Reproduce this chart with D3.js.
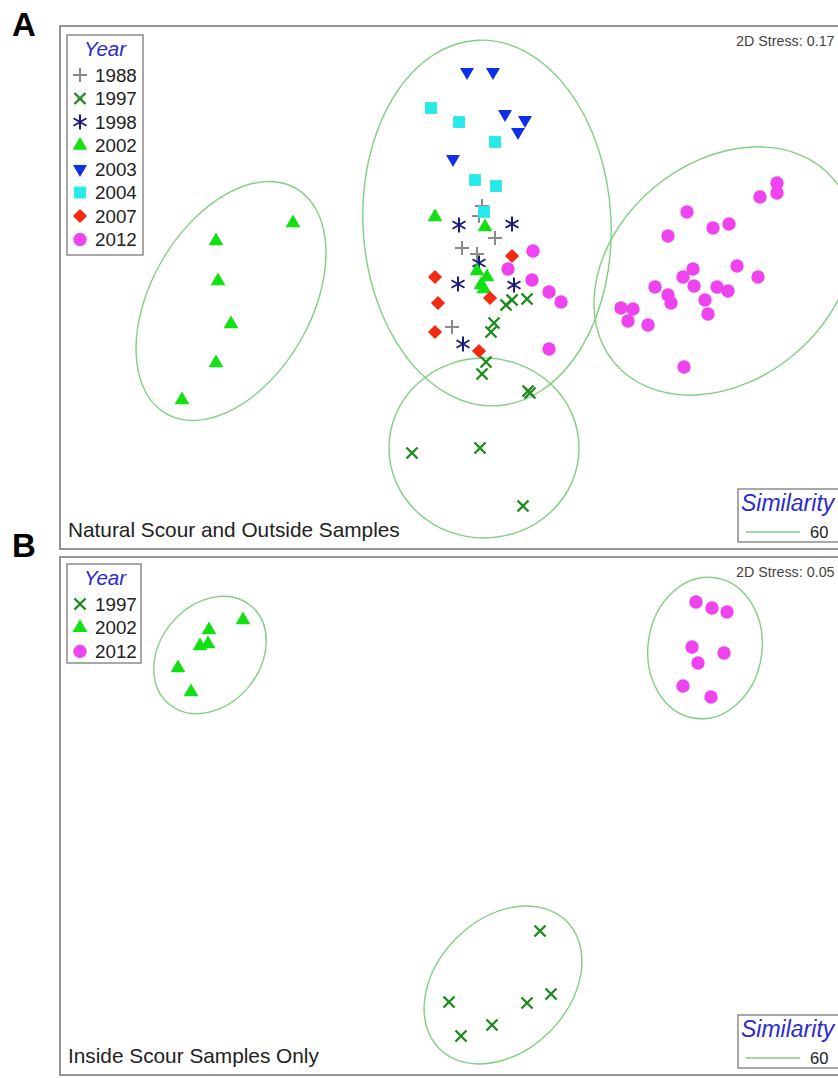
<!DOCTYPE html>
<html>
<head>
<meta charset="utf-8">
<script src="https://cdn.jsdelivr.net/npm/d3@7"></script>
<style>
body{margin:0;background:#fff;}
svg{display:block;font-family:Arial,"Liberation Sans",sans-serif;}
</style>
</head>
<body>
<script>
// ---- data (MDS coordinates) ----
// panel A : natural scour and outside samples
var a1988 = [[0.32,0.84],[0.29,0.74],[0.45,0.52],[0.12,0.42],[0.27,0.36],[0.02,-0.37]];
var a1997 = [[0.62,-0.10],[0.56,-0.15],[0.77,-0.09],[0.44,-0.33],[0.41,-0.42],[0.36,-0.72],
             [0.32,-0.84],[0.78,-1.01],[0.80,-1.03],[-0.38,-1.63],[0.30,-1.58],[0.73,-2.16]];
var a1998 = [[0.09,0.65],[0.62,0.66],[0.29,0.27],[0.08,0.06],[0.64,0.05],[0.13,-0.54]];
var a2002 = [[-1.57,0.67],[-2.34,0.49],[-2.32,0.09],[-2.19,-0.34],[-2.34,-0.73],[-2.68,-1.10],
             [-0.15,0.73],[0.35,0.63],[0.27,0.19],[0.37,0.13],[0.31,0.05],[0.34,0.01]];
var a2003 = [[0.17,2.18],[0.43,2.18],[0.55,1.76],[0.75,1.70],[0.68,1.58],[0.03,1.31]];
var a2004 = [[-0.19,1.82],[0.09,1.68],[0.45,1.48],[0.25,1.10],[0.46,1.04],[0.34,0.78]];
var a2007 = [[0.62,0.34],[-0.15,0.13],[-0.12,-0.13],[0.40,-0.08],[-0.15,-0.42],[0.29,-0.61]];
var a2012 = [[0.83,0.39],[0.58,0.21],[0.82,0.10],[0.99,-0.02],[1.11,-0.12],[0.99,-0.59],
             [3.27,1.07],[3.27,0.97],[3.10,0.93],[2.37,0.78],[2.63,0.62],[2.79,0.66],
             [2.18,0.54],[2.87,0.24],[3.08,0.13],[2.43,0.21],[2.33,0.13],[2.44,0.04],
             [2.67,0.03],[2.78,-0.01],[2.05,0.03],[2.18,-0.05],[2.21,-0.13],[2.55,-0.10],
             [2.58,-0.24],[1.71,-0.18],[1.83,-0.19],[1.78,-0.31],[1.98,-0.35],[2.34,-0.77]];
// similarity 60 contours: [cx, cy, rx, ry, tilt(deg)]
var aContours = [[-2.19,-0.11,1.30,0.80,60],[0.37,0.67,1.24,1.83,3],
                 [2.74,0.19,1.43,1.09,40],[0.34,-1.58,0.95,0.90,0]];
var aStress = 0.17;

// panel B : inside scour samples only
var b1997 = [[0.90,-1.16],[1.01,-1.79],[0.77,-1.88],[-0.01,-1.87],[0.42,-2.10],[0.11,-2.21]];
var b2002 = [[-2.07,1.95],[-2.41,1.85],[-2.50,1.69],[-2.42,1.71],[-2.72,1.47],[-2.59,1.23]];
var b2012 = [[2.46,2.13],[2.62,2.07],[2.77,2.03],[2.42,1.68],[2.74,1.62],[2.48,1.52],
             [2.33,1.29],[2.61,1.18]];
var bContours = [[-2.40,1.60,0.64,0.50,50],[2.55,1.67,0.57,0.71,-8],[0.53,-1.70,0.90,0.66,45]];
var bStress = 0.05;

var similarity = 60;

// ---- marker styles ----
var style = {
  "1988": {color:"#8a8a8a", shape:"plus"},
  "1997": {color:"#1f8a1f", shape:"times"},
  "1998": {color:"#1b1b7d", shape:"asterisk"},
  "2002": {color:"#11e011", shape:"up"},
  "2003": {color:"#1030e6", shape:"down"},
  "2004": {color:"#26e9e9", shape:"square"},
  "2007": {color:"#f22a12", shape:"diamond"},
  "2012": {color:"#f043f0", shape:"circle"}
};

function markerPath(shape){
  if(shape=="plus") return "M-7,0H7M0,-7V7";
  if(shape=="times") return "M-5.5,-5.5L5.5,5.5M-5.5,5.5L5.5,-5.5";
  if(shape=="asterisk") return "M0,-7.5V7.5M-6.5,-3.75L6.5,3.75M-6.5,3.75L6.5,-3.75";
  if(shape=="up") return d3.symbol(d3.symbolTriangle, 95)();
  if(shape=="down") return d3.symbol(d3.symbolTriangle, 85)();
  if(shape=="square") return d3.symbol(d3.symbolSquare, 140)();
  if(shape=="diamond") return d3.symbol(d3.symbolSquare, 100)();
  return d3.symbol(d3.symbolCircle, 140)();
}
function markerRotate(shape){
  if(shape=="down") return 180;
  if(shape=="diamond") return 45;
  return 0;
}
function isStroked(shape){
  return shape=="plus" || shape=="times" || shape=="asterisk";
}

var W = 838, H = 1078;
var svg = d3.select("body").append("svg").attr("width", W).attr("height", H);

function drawPanel(p){
  var g = svg.append("g");
  var x = d3.scaleLinear().domain([-3.9, 3.88]).range([60, 838]);
  var y = d3.scaleLinear().domain(p.yDomain).range([p.top, p.bottom]);

  g.append("rect").attr("x", 60).attr("y", p.top).attr("width", 800)
   .attr("height", p.bottom - p.top).attr("fill", "none")
   .attr("stroke", "#7a7a7a").attr("stroke-width", 1.6);

  // cluster contours
  g.selectAll("ellipse.c").data(p.contours).enter().append("ellipse")
   .attr("class", "c")
   .attr("cx", 0).attr("cy", 0)
   .attr("rx", function(d){ return x(d[2]) - x(0); })
   .attr("ry", function(d){ return y(0) - y(d[3]); })
   .attr("transform", function(d){ return "translate(" + x(d[0]) + "," + y(d[1]) + ") rotate(" + (-d[4]) + ")"; })
   .attr("fill", "none").attr("stroke", "#7fd07f").attr("stroke-width", 1.4);

  // samples
  p.series.forEach(function(s){
    var st = style[s.year];
    var stroked = isStroked(st.shape);
    g.selectAll("path.y" + s.year).data(s.pts).enter().append("path")
     .attr("class", "y" + s.year)
     .attr("d", markerPath(st.shape))
     .attr("transform", function(d){ return "translate(" + x(d[0]) + "," + y(d[1]) + ") rotate(" + markerRotate(st.shape) + ")"; })
     .attr("fill", stroked ? "none" : st.color)
     .attr("stroke", stroked ? st.color : "none")
     .attr("stroke-width", st.shape=="times" ? 2.4 : 2);
  });

  // year legend
  var lg = g.append("g");
  lg.append("rect").attr("x", 67).attr("y", p.legTop).attr("width", p.legW)
    .attr("height", p.legH).attr("fill", "#fff").attr("stroke", "#7a7a7a").attr("stroke-width", 1.3);
  lg.append("text").attr("x", 105).attr("y", p.legTop + 21).attr("text-anchor", "middle")
    .attr("font-size", 20.5).attr("font-style", "italic").attr("fill", "#2b2bd0").text("Year");
  p.series.forEach(function(s, i){
    var st = style[s.year];
    var stroked = isStroked(st.shape);
    var cy = p.legFirst + i * p.legStep;
    lg.append("path").attr("d", markerPath(st.shape))
      .attr("transform", "translate(80," + cy + ") rotate(" + markerRotate(st.shape) + ")")
      .attr("fill", stroked ? "none" : st.color)
      .attr("stroke", stroked ? st.color : "none")
      .attr("stroke-width", st.shape=="times" ? 2.4 : 2);
    lg.append("text").attr("x", 95).attr("y", cy + 6.5).attr("font-size", 18.8)
      .attr("fill", "#222").text(s.year);
  });

  // stress
  g.append("text").attr("x", 736).attr("y", p.top + 20).attr("font-size", 14.3)
   .attr("fill", "#444").text("2D Stress: " + p.stress.toFixed(2));

  // similarity legend
  var sb = p.bottom - 60;
  g.append("rect").attr("x", 738).attr("y", sb).attr("width", 120).attr("height", 53)
   .attr("fill", "#fff").attr("stroke", "#7a7a7a").attr("stroke-width", 1.3);
  g.append("text").attr("x", 741).attr("y", sb + 22).attr("font-size", 23)
   .attr("font-style", "italic").attr("fill", "#2b2bd0").text("Similarity");
  g.append("line").attr("x1", 746).attr("x2", 800).attr("y1", sb + 43).attr("y2", sb + 43)
   .attr("stroke", "#7fd07f").attr("stroke-width", 1.4);
  g.append("text").attr("x", 810).attr("y", sb + 49).attr("font-size", 16.5)
   .attr("fill", "#222").text(similarity);

  // panel caption
  g.append("text").attr("x", 68).attr("y", p.bottom - 12).attr("font-size", 20.8)
   .attr("fill", "#222").text(p.title);

  // panel letter
  svg.append("text").attr("x", 12).attr("y", p.letterY).attr("font-size", 33)
   .attr("font-weight", "bold").attr("fill", "#000").text(p.letter);
}

drawPanel({
  letter: "A", letterY: 36, top: 26, bottom: 549, yDomain: [2.64, -2.59],
  title: "Natural Scour and Outside Samples", stress: aStress, contours: aContours,
  legTop: 35, legW: 76, legH: 220, legFirst: 75, legStep: 23.5,
  series: [{year:"1988", pts:a1988},{year:"1997", pts:a1997},{year:"1998", pts:a1998},
           {year:"2002", pts:a2002},{year:"2003", pts:a2003},{year:"2004", pts:a2004},
           {year:"2007", pts:a2007},{year:"2012", pts:a2012}]
});
drawPanel({
  letter: "B", letterY: 557, top: 557, bottom: 1075, yDomain: [2.58, -2.60],
  title: "Inside Scour Samples Only", stress: bStress, contours: bContours,
  legTop: 564, legW: 74, legH: 99, legFirst: 604, legStep: 23.7,
  series: [{year:"1997", pts:b1997},{year:"2002", pts:b2002},{year:"2012", pts:b2012}]
});
</script>
</body>
</html>
